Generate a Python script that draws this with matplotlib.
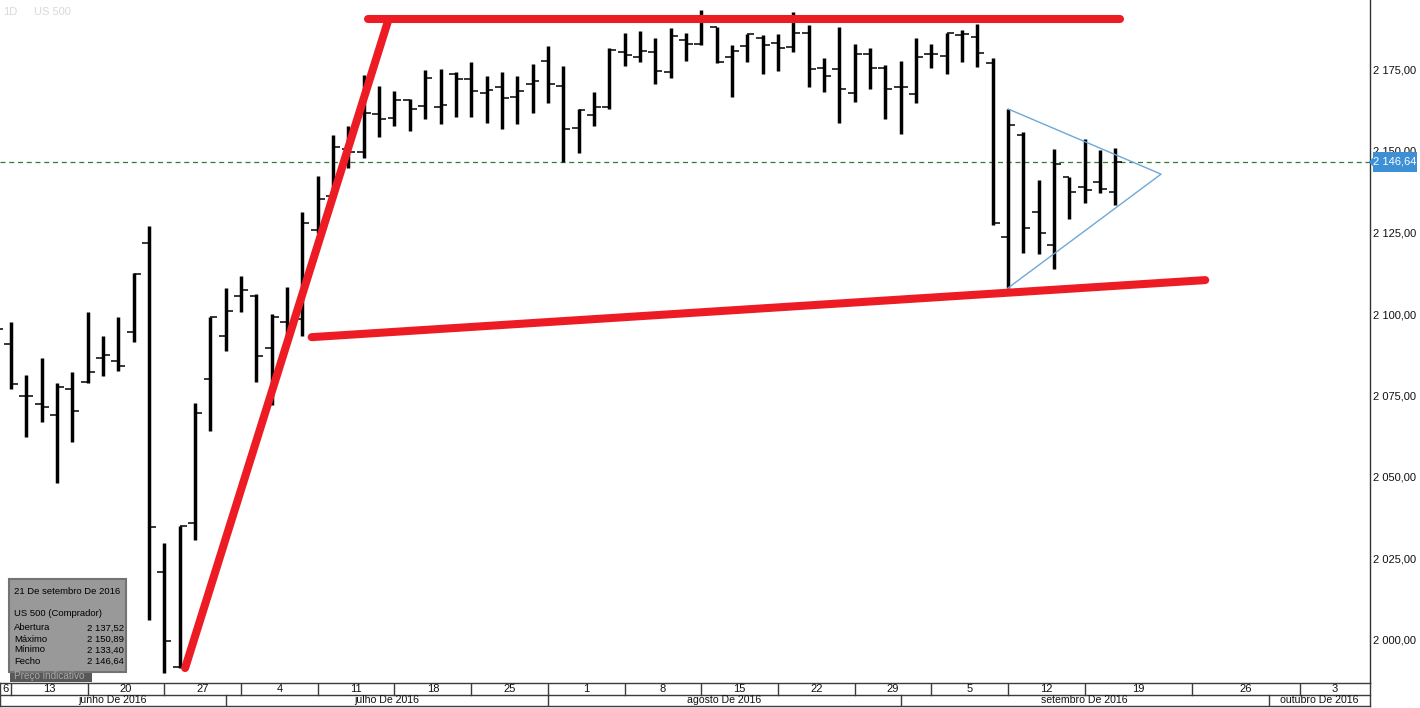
import matplotlib
matplotlib.use("Agg")
import matplotlib.pyplot as plt
from matplotlib.patches import Rectangle, Polygon
import numpy as np
import pandas as pd

plt.rcParams['font.family'] = ['Liberation Sans', 'DejaVu Sans']

# ---------------- data ----------------
dates = [d.strftime('%Y-%m-%d') for d in pd.bdate_range('2016-06-10', '2016-09-21')]

opens = [2097.0,
         2090.8, 2074.8, 2072.4, 2069.0, 2076.9,
         2079.0, 2086.4, 2085.7, 2094.6, 2121.9,
         2021.0, 1991.8, 2036.0, 2080.0, 2093.3,
         2105.6, 2105.5, 2089.5, 2097.6, 2098.4,
         2125.7, 2136.2, 2150.5, 2149.6, 2161.3,
         2160.2, 2165.6, 2163.9, 2163.6, 2173.5,
         2172.1, 2167.7, 2169.5, 2166.5, 2170.6,
         2177.6, 2170.0, 2157.2, 2161.0, 2163.6,
         2180.5, 2178.9, 2180.3, 2174.3, 2184.2,
         2182.7, 2187.9, 2178.9, 2182.2, 2184.6,
         2183.2, 2181.8, 2186.1, 2175.4, 2175.2,
         2167.7, 2179.8, 2175.4, 2169.5, 2167.4,
         2179.8, 2179.1, 2185.6, 2184.9, 2177.1,
         2123.7, 2154.9, 2131.2, 2121.2, 2141.9,
         2138.9, 2140.4, 2137.52]
highs = [2099.5,
         2097.4, 2081.3, 2086.4, 2078.7, 2082.1,
         2100.5, 2093.3, 2099.0, 2112.5, 2127.0,
         2029.8, 2035.1, 2072.6, 2099.2, 2107.9,
         2111.7, 2106.0, 2099.9, 2108.2, 2131.2,
         2142.3, 2154.9, 2157.7, 2173.3, 2169.9,
         2168.4, 2165.9, 2174.8, 2175.1, 2174.1,
         2177.2, 2173.0, 2174.1, 2173.0, 2176.6,
         2182.2, 2176.1, 2162.8, 2168.0, 2181.7,
         2186.1, 2186.9, 2184.6, 2187.6, 2186.1,
         2193.3, 2187.9, 2182.5, 2185.9, 2185.6,
         2185.9, 2192.5, 2188.7, 2178.4, 2187.9,
         2182.8, 2181.5, 2176.4, 2177.6, 2184.6,
         2182.7, 2186.3, 2187.1, 2189.0, 2178.4,
         2162.8, 2155.9, 2141.1, 2150.5, 2141.9,
         2153.6, 2150.3, 2150.89]
lows = [2091.0,
        2076.9, 2062.4, 2067.0, 2048.3, 2060.8,
        2078.7, 2081.1, 2082.6, 2091.5, 2006.1,
        1989.8, 1991.3, 2030.7, 2064.1, 2088.7,
        2100.7, 2079.2, 2072.1, 2090.0, 2093.3,
        2124.9, 2135.0, 2144.7, 2147.8, 2154.2,
        2157.8, 2156.2, 2159.7, 2158.2, 2160.5,
        2160.5, 2158.5, 2156.7, 2158.2, 2161.6,
        2164.6, 2146.7, 2149.5, 2157.8, 2162.8,
        2176.2, 2177.2, 2170.6, 2172.3, 2177.7,
        2182.5, 2176.9, 2166.7, 2177.2, 2173.5,
        2174.5, 2180.5, 2169.7, 2168.2, 2158.7,
        2165.1, 2168.9, 2159.7, 2155.1, 2164.6,
        2175.4, 2173.5, 2177.4, 2175.9, 2127.3,
        2107.9, 2118.6, 2118.3, 2113.7, 2129.0,
        2134.0, 2137.0, 2133.40]
closes = [2095.4,
          2078.4, 2074.8, 2071.4, 2077.5, 2070.2,
          2082.3, 2087.3, 2084.1, 2112.3, 2034.8,
          1999.7, 2035.0, 2069.5, 2099.0, 2100.9,
          2107.4, 2087.2, 2099.0, 2097.0, 2127.8,
          2135.2, 2151.1, 2149.6, 2161.7, 2159.8,
          2165.6, 2163.0, 2172.5, 2164.1, 2172.1,
          2168.5, 2168.7, 2166.2, 2168.5, 2171.6,
          2170.6, 2156.7, 2162.6, 2163.6, 2181.0,
          2179.6, 2180.8, 2174.5, 2185.3, 2182.7,
          2190.0, 2177.2, 2180.7, 2185.9, 2182.5,
          2181.5, 2186.1, 2175.2, 2173.0, 2168.9,
          2179.8, 2175.4, 2168.9, 2169.5, 2178.7,
          2179.8, 2186.3, 2185.8, 2180.0, 2127.8,
          2158.0, 2126.3, 2124.8, 2146.0, 2137.3,
          2138.0, 2138.2, 2146.64]

last_price = 2146.64
ytick_values = [2000, 2025, 2050, 2075, 2100, 2125, 2150, 2175]

week_starts = ['2016-06-06', '2016-06-13', '2016-06-20', '2016-06-27', '2016-07-04',
               '2016-07-11', '2016-07-18', '2016-07-25', '2016-08-01', '2016-08-08',
               '2016-08-15', '2016-08-22', '2016-08-29', '2016-09-05', '2016-09-12',
               '2016-09-19', '2016-09-26', '2016-10-03', '2016-10-10']
week_labels = ['6', '13', '20', '27', '4', '11', '18', '25', '1', '8', '15', '22',
               '29', '5', '12', '19', '26', '3', '10']
month_starts = ['2016-06-01', '2016-07-01', '2016-08-01', '2016-09-01', '2016-10-01',
                '2016-11-01']
month_labels = ['junho De 2016', 'julho De 2016', 'agosto De 2016',
                'setembro De 2016', 'outubro De 2016']

# drawn trend lines (slot, price) endpoints
resistance_line = ([23.3, 72.3], [2190.5, 2190.5])
rally_line = ([11.35, 24.6], [1991.4, 2190.2])
support_line = ([19.6, 77.85], [2092.9, 2110.4])
triangle_line = ([65.0, 74.97, 65.0], [2162.9, 2142.9, 2108.0])

info_title = '21 De setembro De 2016'
info_name = 'US 500 (Comprador)'
info_rows = [('Abertura', '2 137,52'), ('Máximo', '2 150,89'),
             ('Mínimo', '2 133,40'), ('Fecho', '2 146,64')]

# ---------------- slot mapping ----------------
last_trade = pd.Timestamp(dates[-1])
first_mon = np.datetime64('2016-06-13')
n_last = int(np.busday_count(first_mon, np.datetime64(dates[-1])))


def slot(d):
    t = pd.Timestamp(d)
    if t <= last_trade:
        return int(np.busday_count(first_mon, np.datetime64(t.date())))
    return n_last + (t - last_trade).days


xs = np.array([slot(d) for d in dates], dtype=float)

W, H = 1420, 708
fig = plt.figure(figsize=(W / 100, H / 100), dpi=100)
fig.patch.set_facecolor('white')

PX = 15.34  # pixels per slot
X0 = 11.0   # pixel of slot 0
plot_right = 1370
plot_bottom = 683
xlim = (-X0 / PX, (plot_right - X0) / PX)
ppu = 3.26
ylim = (2000 - (plot_bottom - 640) / ppu, 2000 + 640 / ppu)

ax = fig.add_axes([0, (H - plot_bottom) / H, plot_right / W, plot_bottom / H])
ax.set_xlim(*xlim)
ax.set_ylim(*ylim)
ax.set_facecolor('white')
for s in ['top', 'left', 'bottom']:
    ax.spines[s].set_visible(False)
ax.spines['right'].set_color('#333333')
ax.spines['right'].set_linewidth(1.0)
ax.set_xticks([])
ax.yaxis.tick_right()
ax.set_yticks(ytick_values)
ax.set_yticklabels([f"{v:,.2f}".replace(',', ' ').replace('.', ',') for v in ytick_values])
ax.tick_params(axis='y', length=0, pad=2, labelsize=8, labelcolor='#111111')

# current price dashed line
ax.axhline(last_price, color='#2f7d34', lw=0.9, ls=(0, (4, 3)), zorder=1)

# OHLC bars
ax.vlines(xs, lows, highs, color='black', lw=2.5, zorder=3)
ax.hlines(opens, xs - 0.45, xs, color='black', lw=1.1, zorder=3)
ax.hlines(closes, xs, xs + 0.45, color='black', lw=1.1, zorder=3)

# triangle (light blue)
ax.plot(triangle_line[0], triangle_line[1], color='#6ea8d6', lw=1.0, zorder=4)

# red trend lines
for ln in (resistance_line, rally_line, support_line):
    ax.plot(ln[0], ln[1], color='#ed1c24', lw=5.8, solid_capstyle='round', zorder=5)

# ---------------- date axis ----------------
dax = fig.add_axes([0, (H - 706) / H, plot_right / W, 23 / H])
dax.set_xlim(*xlim)
dax.set_ylim(0, 2)
dax.axis('off')
lc = '#3c3c3c'
dax.plot(xlim, [2, 2], color=lc, lw=1.0, clip_on=False)
dax.plot(xlim, [1, 1], color=lc, lw=1.0, clip_on=False)
dax.plot(xlim, [0, 0], color=lc, lw=1.0, clip_on=False)
dax.plot([xlim[0] + 0.03] * 2, [0, 2], color=lc, lw=1.0, clip_on=False)
dax.plot([xlim[1] - 0.03] * 2, [0, 2], color=lc, lw=1.0, clip_on=False)

ws = [slot(d) for d in week_starts]
for i, lab in enumerate(week_labels[:-1]):
    a, b = max(ws[i], xlim[0]), min(ws[i + 1], xlim[1])
    if b <= a:
        continue
    if xlim[0] < ws[i] < xlim[1]:
        dax.plot([ws[i], ws[i]], [1, 2], color=lc, lw=1.0)
    dax.text((a + b) / 2, 1.5, lab, ha='center', va='center', fontsize=8, color='#111111')

ms = [slot(d) for d in month_starts]
for i, lab in enumerate(month_labels):
    a, b = max(ms[i], xlim[0]), min(ms[i + 1], xlim[1])
    if b <= a:
        continue
    if xlim[0] < ms[i] < xlim[1]:
        dax.plot([ms[i], ms[i]], [0, 1], color=lc, lw=1.0)
    dax.text((a + b) / 2, 0.5, lab, ha='center', va='center', fontsize=7.6, color='#111111')


def fx(px):
    return px / W


def fy(py):
    return 1 - py / H


# ---------------- price tag ----------------
fig.patches.append(Rectangle((fx(1373), fy(172)), (1417 - 1373) / W, 20 / H,
                             transform=fig.transFigure, facecolor='#3d8fd6',
                             edgecolor='none', zorder=10))
fig.patches.append(Polygon([(fx(1369), fy(162)), (fx(1373.5), fy(157)), (fx(1373.5), fy(167))],
                           closed=True, transform=fig.transFigure, facecolor='#3d8fd6',
                           edgecolor='none', zorder=10))
fig.text(fx(1395), fy(162), f"{last_price:,.2f}".replace(',', ' ').replace('.', ','),
         ha='center', va='center', fontsize=8, color='white', zorder=11)

# ---------------- top-left labels ----------------
fig.text(fx(3), fy(12), '1D', ha='left', va='center', fontsize=8, color='#d9d9d9')
fig.text(fx(34), fy(12), 'US 500', ha='left', va='center', fontsize=8, color='#d9d9d9')

# ---------------- info box ----------------
fig.patches.append(Rectangle((fx(10), fy(682)), (92 - 10) / W, 11 / H,
                             transform=fig.transFigure, facecolor='#585858',
                             edgecolor='none', zorder=10))
fig.text(fx(14), fy(676), 'Preço indicativo', ha='left', va='center', fontsize=7.2,
         color='#a8a8a8', zorder=11)
fig.patches.append(Rectangle((fx(9), fy(672)), (126 - 9) / W, (672 - 579) / H,
                             transform=fig.transFigure, facecolor='#999999',
                             edgecolor='#737373', lw=1.5, zorder=10))
fs_info = 6.8
fig.text(fx(14), fy(591), info_title, ha='left', va='center', fontsize=fs_info, color='black', zorder=11)
fig.text(fx(14), fy(614), info_name, ha='left', va='center', fontsize=fs_info, color='black', zorder=11)
for k, (lab, val) in enumerate(info_rows):
    yy = 628 + k * 11
    fig.text(fx(14), fy(yy), lab, ha='left', va='center', fontsize=fs_info, color='black', zorder=11)
    fig.text(fx(124), fy(yy), val, ha='right', va='center', fontsize=fs_info, color='black', zorder=11)

fig.savefig('out.png', dpi=100, facecolor='white')
